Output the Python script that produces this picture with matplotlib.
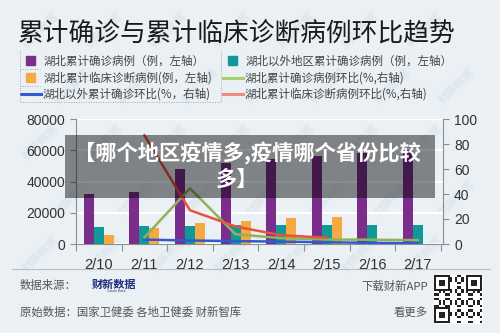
import matplotlib
matplotlib.use("Agg")
import matplotlib.pyplot as plt
import numpy as np
from matplotlib.patches import Rectangle

plt.rcParams['font.family'] = ['Noto Sans CJK SC', 'DejaVu Sans']

dates = ['2/10', '2/11', '2/12', '2/13', '2/14', '2/15', '2/16', '2/17']
hubei_confirmed = [31728, 33366, 48206, 51986, 54406, 56249, 58182, 59989]
outside_confirmed = [10910, 11287, 11598, 11865, 12086, 12251, 12366, 12447]
hubei_clinical = [5600, 10300, 13300, 15000, 16800, 17500, np.nan, np.nan]
hubei_confirmed_ratio = [np.nan, 5.2, 44.5, 7.8, 4.7, 3.6, 3.4, 3.1]
outside_ratio = [np.nan, 3.5, 2.8, 2.3, 1.9, 1.4, 0.9, 0.7]
clinical_ratio = [np.nan, 87, 27, 14, 7, 5, np.nan, np.nan]
left_ticks = [0, 20000, 40000, 60000, 80000]
right_ticks = [0, 20, 40, 60, 80, 100]

BG = '#eaf0f4'
PURPLE = '#7b2d8b'
TEAL = '#11999a'
ORANGE = '#f7a941'
GREEN = '#8fb35a'
GREEN_L = '#a6d070'
RED = '#e8533e'
RED_L = '#ef8a85'
BLUE = '#2f5bcf'
AX = '#8a8f94'

W, H = 500, 333
fig = plt.figure(figsize=(5, 3.33), dpi=100, facecolor=BG)

def fx(px):
    return px / W

def fy(py):
    return 1 - py / H

# background overlay (watermarks)
bgax = fig.add_axes([0, 0, 1, 1], facecolor='none', zorder=-5)
bgax.set_xlim(0, W)
bgax.set_ylim(H, 0)
bgax.axis('off')
for r in range(0, 6):
    for c in range(0, 8):
        wx = 40 + c * 64 + (r % 2) * 32
        wy = 30 + r * 56
        if 28 <= wx <= 470 and 28 <= wy <= 305:
            bgax.text(wx, wy, '财新数据', fontsize=8, fontweight='bold', color='#dde6ee',
                      rotation=45, ha='center', va='center')

ax = fig.add_axes([fx(76), fy(244), fx(443) - fx(76), fy(119) - fy(244)])
ax.set_facecolor('none')
x = np.arange(len(dates))
bw = 0.22
ax.bar(x - bw, hubei_confirmed, bw, color=PURPLE, zorder=3)
ax.bar(x, outside_confirmed, bw, color=TEAL, zorder=3)
ax.bar(x + bw, hubei_clinical, bw, color=ORANGE, zorder=3)
ax.set_xlim(-0.5, 7.55)
ax.set_ylim(0, 80000)
ax.set_yticks(left_ticks)
ax.set_yticklabels([str(v) for v in left_ticks], family='Liberation Sans', fontsize=10, color='#333333')
ax.set_xticks(x)
ax.set_xticklabels(dates, family='Liberation Sans', fontsize=10.5, color='#333333')
ax.set_xticks(np.arange(-0.5, 8, 1), minor=True)
ax.tick_params(axis='x', which='major', length=0, pad=10)
ax.tick_params(axis='x', which='minor', length=5, color=AX, width=0.8)
ax.tick_params(axis='y', length=4, color=AX, width=0.8, pad=4)
ax.grid(axis='y', color='white', linewidth=1.6, zorder=0)
for s in ['top', 'right']:
    ax.spines[s].set_visible(False)
for s in ['left', 'bottom']:
    ax.spines[s].set_color(AX)
    ax.spines[s].set_linewidth(0.8)

ax2 = ax.twinx()
ax2.set_ylim(0, 100)
ax2.set_yticks(right_ticks)
ax2.set_yticklabels([str(v) for v in right_ticks], family='Liberation Sans', fontsize=10, color='#333333')
ax2.tick_params(axis='y', length=4, color=AX, width=0.8, pad=4)
for s in ['top', 'left', 'bottom']:
    ax2.spines[s].set_visible(False)
ax2.spines['right'].set_color(AX)
ax2.spines['right'].set_linewidth(0.8)
ax2.plot(x, outside_ratio, color=BLUE, lw=1.8, zorder=4)
ax2.plot(x, hubei_confirmed_ratio, color=GREEN, lw=1.8, zorder=5)
ax2.plot(x, clinical_ratio, color=RED, lw=1.8, zorder=6)

# overlay axes in pixel coords
ov = fig.add_axes([0, 0, 1, 1], facecolor='none')
ov.set_xlim(0, W)
ov.set_ylim(H, 0)
ov.axis('off')

# title
ov.text(18, 35, '累计确诊与累计临床诊断病例环比趋势', fontsize=18.5, color='#1a1a1a', va='center', ha='left')

# legend
leg_items = [
    ('sq', PURPLE, '湖北累计确诊病例（例，左轴）', 0, 0),
    ('sq', TEAL, '湖北以外地区累计确诊病例（例，左轴）', 1, 0),
    ('sq', ORANGE, '湖北累计临床诊断病例(例，左轴)', 0, 1),
    ('ln', GREEN_L, '湖北累计确诊病例环比(%,右轴)', 1, 1),
    ('ln', BLUE, '湖北以外累计确诊环比(%，右轴)', 0, 2),
    ('ln', RED_L, '湖北累计临床诊断病例环比(%,右轴)', 1, 2),
]
col_x = [20, 222]
row_y = [61, 78, 94]
for kind, c, label, ci, ri in leg_items:
    x0 = col_x[ci]
    y0 = row_y[ri]
    if kind == 'sq':
        ov.add_patch(Rectangle((x0 + 6, y0 - 5), 9, 9, color=c))
        ov.text(x0 + 24, y0, label, fontsize=8.3, color='#444444', va='center', ha='left')
    else:
        ov.plot([x0 + 1, x0 + 21], [y0, y0], color=c, lw=2.2)
        ov.text(x0 + 23, y0, label, fontsize=8.3, color='#444444', va='center', ha='left')
dot = dict(color='#a0a6ab', lw=0.7, ls=(0, (1, 1.5)))
ov.plot([20, 20], [51, 102], **dot)
ov.plot([221, 221], [51, 102], **dot)
ov.plot([20, 221], [102, 102], **dot)
ov.plot([20, 40], [69, 69], **dot)
ov.plot([20, 40], [86, 86], **dot)

# banner
ov.add_patch(Rectangle((65, 135), 370, 63, color='black', alpha=0.45, lw=0, zorder=10))
ov.text(247, 153, '【哪个地区疫情多,疫情哪个省份比较', fontsize=15.3, fontweight='bold',
        color='white', ha='center', va='center', zorder=11)
ov.text(237, 179, '多】', fontsize=15.3, fontweight='bold',
        color='white', ha='center', va='center', zorder=11)

# footer
ov.plot([12, 490], [269, 269], color='#b8bec4', lw=0.8)
ov.text(20, 286, '数据来源：', fontsize=8.2, color='#555555', va='center', ha='left')
ov.text(92, 284, '财新数据', fontsize=8, fontweight='bold', color='#1f2d7a', va='center', ha='left')
ov.text(116, 291.5, 'Caixin Data', fontsize=2.5, color='#1f2d7a', va='center', ha='center')
ov.text(20, 312, '原始数据：国家卫健委 各地卫健委 财新智库', fontsize=8.2, color='#555555', va='center', ha='left')
ov.text(428, 286, '下载财新APP', fontsize=8.2, color='#555555', va='center', ha='right')
ov.text(428, 312, '看更多', fontsize=8.2, color='#555555', va='center', ha='right')

# QR-like code
qx, qy, qs = 434, 275, 48
n = 21
cell = qs / n
ov.add_patch(Rectangle((qx, qy), qs, qs, color='white', zorder=2))
for i in range(n):
    for j in range(n):
        finder = (i < 7 and j < 7) or (i < 7 and j >= n - 7) or (i >= n - 7 and j < 7)
        if finder:
            continue
        if ((i * 7 + j * 11 + i * j) % 5) < 2:
            ov.add_patch(Rectangle((qx + j * cell, qy + i * cell), cell, cell, color='#222222', lw=0, zorder=3))
for (fi, fj) in [(0, 0), (0, n - 7), (n - 7, 0)]:
    bx, by = qx + fj * cell, qy + fi * cell
    ov.add_patch(Rectangle((bx, by), 7 * cell, 7 * cell, color='#222222', lw=0, zorder=3))
    ov.add_patch(Rectangle((bx + cell, by + cell), 5 * cell, 5 * cell, color='white', lw=0, zorder=4))
    ov.add_patch(Rectangle((bx + 2 * cell, by + 2 * cell), 3 * cell, 3 * cell, color='#222222', lw=0, zorder=5))

fig.savefig('out.png', dpi=100, facecolor=BG)
